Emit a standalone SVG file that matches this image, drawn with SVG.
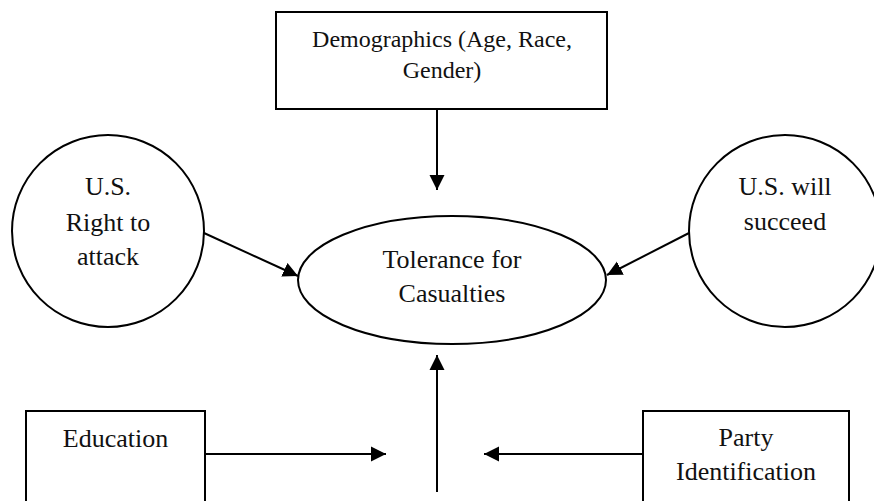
<svg xmlns="http://www.w3.org/2000/svg" width="874" height="501" viewBox="0 0 874 501">
<style>
.n{fill:#fff;stroke:#000;stroke-width:2}
.t{font-family:"Liberation Serif","Times New Roman",serif;font-size:26px;fill:#111;text-anchor:middle}
.c{stroke:#000;stroke-width:2;fill:none;marker-end:url(#ah)}
</style>
<defs>
<marker id="ah" markerUnits="userSpaceOnUse" markerWidth="16" markerHeight="16" viewBox="0 0 16 16" refX="15" refY="8" orient="auto">
<path d="M0,0.5 L15,8 L0,15.5 Z" fill="#000"/>
</marker>
</defs>
<rect width="874" height="501" fill="#fff"/>
<g id="demographics">
<rect class="n" x="276" y="12" width="331" height="97"/>
<text class="t" x="442" y="47" font-size="24" style="font-size:24px">Demographics (Age, Race,</text>
<text class="t" x="442" y="78" style="font-size:24px">Gender)</text>
</g>
<g id="right-to-attack">
<circle class="n" cx="108" cy="231" r="96"/>
<text class="t" x="108" y="195">U.S.</text>
<text class="t" x="108" y="231">Right to</text>
<text class="t" x="108" y="265">attack</text>
</g>
<g id="will-succeed">
<circle class="n" cx="785" cy="231" r="96"/>
<text class="t" x="785" y="195">U.S. will</text>
<text class="t" x="785" y="230">succeed</text>
</g>
<g id="tolerance">
<ellipse class="n" cx="452" cy="280" rx="154" ry="64"/>
<text class="t" x="452" y="268">Tolerance for</text>
<text class="t" x="452" y="302">Casualties</text>
</g>
<g id="education">
<rect class="n" x="26" y="411" width="179" height="100"/>
<text class="t" x="115.5" y="447">Education</text>
</g>
<g id="party">
<rect class="n" x="643" y="411" width="206" height="100"/>
<text class="t" x="746" y="446">Party</text>
<text class="t" x="746" y="480">Identification</text>
</g>
<g id="connectors">
<line class="c" x1="437" y1="109" x2="437" y2="190"/>
<line class="c" x1="204" y1="233" x2="298" y2="276"/>
<line class="c" x1="689" y1="233" x2="607" y2="275"/>
<line class="c" x1="437" y1="492" x2="437" y2="355"/>
<line class="c" x1="205" y1="454" x2="386" y2="454"/>
<line class="c" x1="643" y1="454" x2="484" y2="454"/>
</g>
</svg>
